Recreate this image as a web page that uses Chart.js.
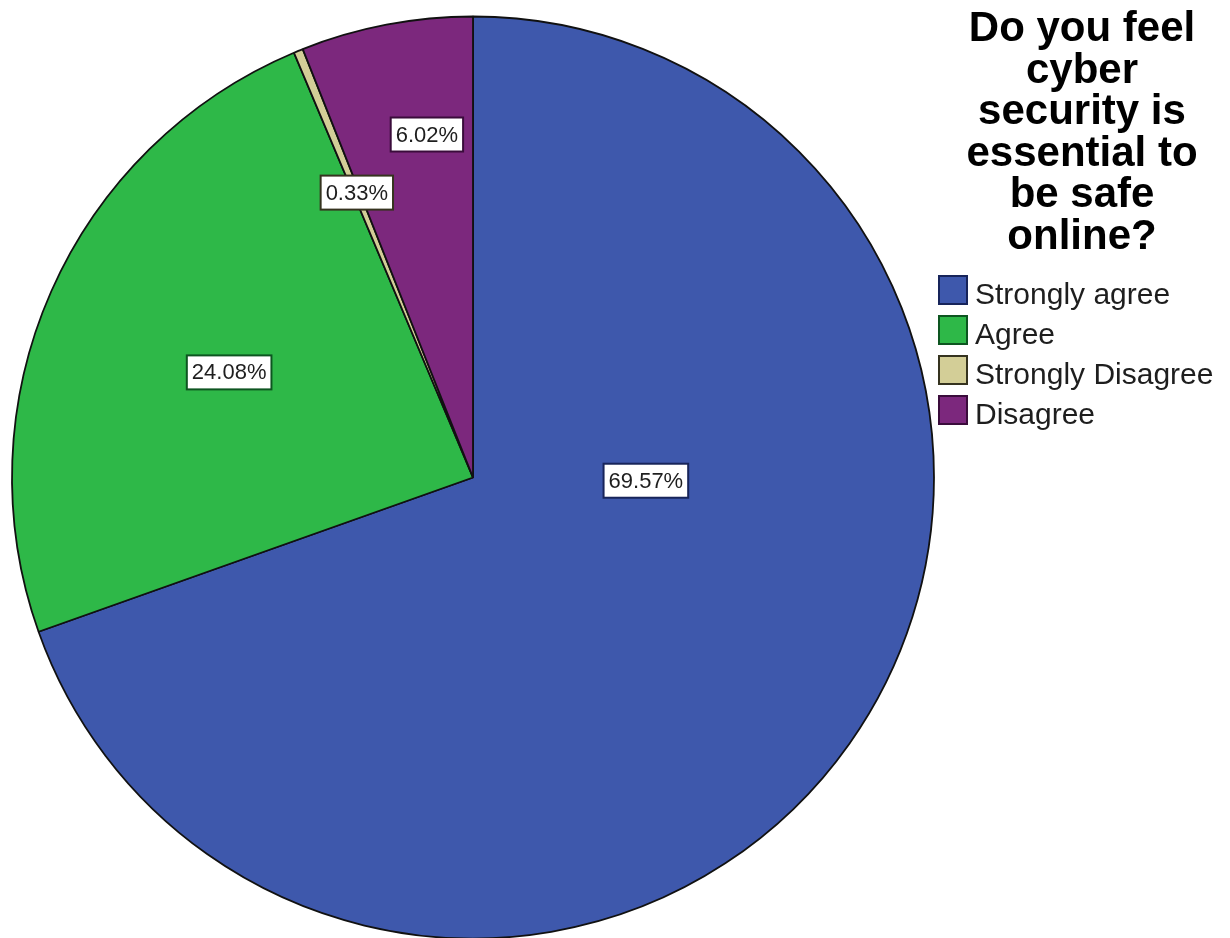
<!DOCTYPE html>
<html>
<head>
<meta charset="utf-8">
<script src="https://cdn.jsdelivr.net/npm/chart.js@4.4.1/dist/chart.umd.min.js"></script>
<style>
  html, body { margin: 0; padding: 0; background: #ffffff; overflow: hidden; }
  #wrap { width: 1230px; height: 938px; position: relative; }
  canvas { display: block; }
</style>
</head>
<body>
<div id="wrap"><canvas id="c" width="1230" height="938"></canvas></div>
<script>
// Survey answers and their shares (percent of respondents)
const categories = ['Strongly agree', 'Agree', 'Strongly Disagree', 'Disagree'];
const percents = [69.57, 24.08, 0.33, 6.02];

// Legend heading, one entry per line
const titleLines = ['Do you feel', 'cyber', 'security is', 'essential to', 'be safe', 'online?'];

// Slice fills and the darker tone used for label frames / legend swatch edges
const fillColors = ['#3e58ac', '#2eb848', '#d3ce97', '#7c287d'];
const edgeColors = ['#17245a', '#0d5520', '#35331f', '#3a0c3b'];

// Where each value label sits, relative to the pie centre, in units of the radius
const labelOffsets = [[0.375, 0.007], [-0.529, -0.228], [-0.252, -0.618], [-0.100, -0.744]];

const FONT = '"Liberation Sans", Arial, "DejaVu Sans", sans-serif';

// Boxed percentage labels drawn on top of the slices
const valueLabels = {
  id: 'valueLabels',
  afterDatasetsDraw(chart) {
    const ctx = chart.ctx;
    const arcs = chart.getDatasetMeta(0).data;
    ctx.save();
    ctx.font = '22px ' + FONT;
    ctx.textAlign = 'center';
    ctx.textBaseline = 'middle';
    arcs.forEach((arc, i) => {
      const r = arc.outerRadius;
      const cx = arc.x + labelOffsets[i][0] * r;
      const cy = arc.y + labelOffsets[i][1] * r;
      const text = percents[i].toFixed(2) + '%';
      const w = ctx.measureText(text).width + 10;
      const h = 34;
      ctx.fillStyle = '#ffffff';
      ctx.fillRect(cx - w / 2, cy - h / 2, w, h);
      ctx.lineWidth = 2;
      ctx.strokeStyle = edgeColors[i];
      ctx.strokeRect(cx - w / 2, cy - h / 2, w, h);
      ctx.fillStyle = '#1e1e1e';
      ctx.fillText(text, cx, cy + 1);
    });
    ctx.restore();
  }
};

// Heading and swatch list at the right-hand side
const sideLegend = {
  id: 'sideLegend',
  afterDraw(chart) {
    const ctx = chart.ctx;
    ctx.save();
    // heading
    ctx.font = 'bold 42px ' + FONT;
    ctx.fillStyle = '#000000';
    ctx.textAlign = 'center';
    ctx.textBaseline = 'alphabetic';
    titleLines.forEach((line, i) => {
      ctx.fillText(line, 1082, 41 + i * 41.6);
    });
    // entries
    ctx.font = '30px ' + FONT;
    ctx.textAlign = 'left';
    categories.forEach((name, i) => {
      const top = 276 + i * 40;
      ctx.fillStyle = fillColors[i];
      ctx.fillRect(939, top, 28, 28);
      ctx.lineWidth = 2;
      ctx.strokeStyle = edgeColors[i];
      ctx.strokeRect(939, top, 28, 28);
      ctx.fillStyle = '#1e1e1e';
      ctx.fillText(name, 975, top + 28);
    });
    ctx.restore();
  }
};

new Chart(document.getElementById('c'), {
  type: 'pie',
  data: {
    labels: categories,
    datasets: [{
      data: percents,
      backgroundColor: fillColors,
      borderColor: '#111111',
      borderWidth: 1.8,
      radius: 461,
      hoverOffset: 0
    }]
  },
  options: {
    responsive: false,
    animation: false,
    devicePixelRatio: 1,
    layout: { padding: { left: 12, right: 296, top: 17, bottom: 0 } },
    plugins: {
      legend: { display: false },
      tooltip: { enabled: false },
      title: { display: false }
    }
  },
  plugins: [valueLabels, sideLegend]
});
</script>
</body>
</html>
